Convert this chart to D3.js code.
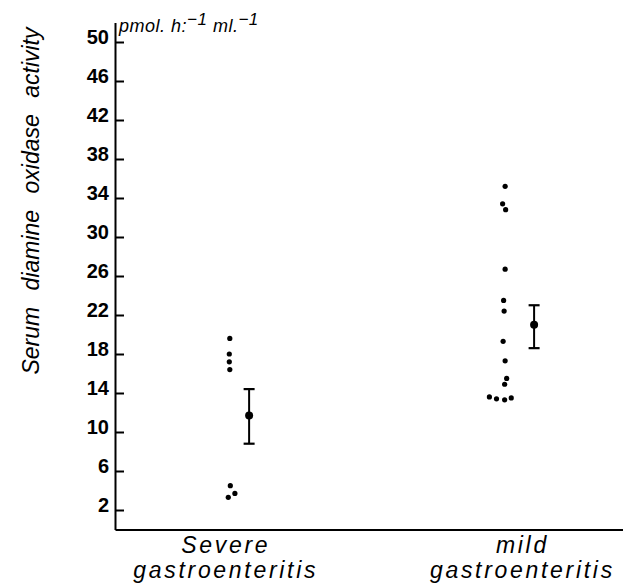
<!doctype html>
<html>
<head>
  <meta charset="utf-8">
  <title>Serum diamine oxidase activity</title>
  <style>
    body { margin: 0; background: #fff; }
    svg { display: block; }
    text { font-family: "Liberation Sans", Arial, sans-serif; fill: #000; }
    .tick text { font-size: 20px; font-weight: bold; }
  </style>
</head>
<body>
  <div id="vis"></div>

  <script src="https://cdn.jsdelivr.net/npm/d3@7"></script>
  <script>

    // data
    var groups = ["Severe", "mild"];
    var groupLabelX = [21.8, 80.2];          // label centre, % of axis width
    var groupDotX = [22.6, 76.8];            // dot column, % of axis width
    var groupMeanX = [26.4, 82.5];           // mean +/- bar, % of axis width

    var severeValues = [19.6, 18.0, 17.2, 16.4, 4.5, 3.7, 3.3];
    var severeJitter = [0, -0.1, -0.1, 0, 0.1, 1.0, -0.3];

    var mildValues = [35.2, 33.4, 32.8, 26.7, 23.5, 22.4, 19.3, 17.3, 15.5, 14.9, 13.6, 13.4, 13.3, 13.5];
    var mildJitter = [0, -0.5, 0.1, 0, -0.3, -0.2, -0.4, 0, 0.3, -0.1, -3.1, -1.7, -0.1, 1.2];

    var means = [11.7, 21.0];
    var errLow = [8.8, 18.6];
    var errHigh = [14.4, 23.0];

    var yTicks = [2, 6, 10, 14, 18, 22, 26, 30, 34, 38, 42, 46, 50];

    var w = 623, h = 588;
    var plotLeft = 115, plotTop = 22.5, plotBottom = 529.5;

    var svg = d3.select("#vis").append("svg")
      .attr("width", w)
      .attr("height", h);

    var x = d3.scaleLinear().domain([0, 100]).range([plotLeft, w]);
    var y = d3.scaleLinear().domain([0, 52]).range([plotBottom, plotTop]);

    // y axis, ticks pointing inward
    var yAxis = d3.axisLeft(y)
      .tickValues(yTicks)
      .tickSize(-9)
      .tickPadding(6)
      .tickSizeOuter(0);

    var ya = svg.append("g")
      .attr("transform", "translate(" + plotLeft + ",0)")
      .call(yAxis);
    ya.select(".domain").attr("stroke-width", 2);
    ya.selectAll(".tick line").attr("stroke-width", 2);
    ya.selectAll(".tick text").attr("dy", "0.05em");
    ya.attr("font-family", null).attr("font-size", null);

    // x axis line only
    var xAxis = d3.axisBottom(x).tickValues([]).tickSizeOuter(0);
    var xa = svg.append("g")
      .attr("transform", "translate(0," + plotBottom + ")")
      .call(xAxis);
    xa.select(".domain").attr("stroke-width", 2);

    // category labels
    var cat = svg.append("g").selectAll("text")
      .data(groups)
      .enter()
      .append("text")
      .attr("text-anchor", "middle")
      .attr("font-style", "italic")
      .attr("font-size", 23)
      .attr("letter-spacing", 2.7)
      .attr("x", function(d, i){ return x(groupLabelX[i]); })
      .attr("y", 553);
    cat.append("tspan").text(function(d){ return d; });
    cat.append("tspan")
      .attr("x", function(d, i){ return x(groupLabelX[i]); })
      .attr("dy", 25)
      .text("gastroenteritis");

    // y axis title
    svg.append("text")
      .attr("transform", "translate(39,201) rotate(-90)")
      .attr("text-anchor", "middle")
      .attr("font-style", "italic")
      .attr("font-size", 23)
      .attr("word-spacing", 10)
      .text("Serum diamine oxidase activity");

    // units
    var units = svg.append("text")
      .attr("x", 119)
      .attr("y", 32)
      .attr("font-style", "italic")
      .attr("font-size", 18)
      .attr("letter-spacing", 0.5);
    units.append("tspan").text("pmol. h:");
    units.append("tspan").attr("dy", -7).attr("font-size", 17).text("\u22121");
    units.append("tspan").attr("dy", 7).text(" ml.");
    units.append("tspan").attr("dy", -7).attr("font-size", 17).text("\u22121");

    // individual points
    var points = [];
    severeValues.forEach(function(v, i){ points.push({x: groupDotX[0] + severeJitter[i], v: v}); });
    mildValues.forEach(function(v, i){ points.push({x: groupDotX[1] + mildJitter[i], v: v}); });

    svg.append("g").selectAll("circle")
      .data(points)
      .enter()
      .append("circle")
      .attr("cx", function(d){ return x(d.x); })
      .attr("cy", function(d){ return y(d.v); })
      .attr("r", 2.6)
      .attr("fill", "#000");

    // mean +/- bars
    var bars = svg.append("g").selectAll("g")
      .data(means)
      .enter()
      .append("g");

    bars.append("line")
      .attr("x1", function(d, i){ return x(groupMeanX[i]); })
      .attr("x2", function(d, i){ return x(groupMeanX[i]); })
      .attr("y1", function(d, i){ return y(errLow[i]); })
      .attr("y2", function(d, i){ return y(errHigh[i]); })
      .attr("stroke", "#000")
      .attr("stroke-width", 2);

    [errLow, errHigh].forEach(function(arr){
      bars.append("line")
        .attr("x1", function(d, i){ return x(groupMeanX[i]) - 5.5; })
        .attr("x2", function(d, i){ return x(groupMeanX[i]) + 5.5; })
        .attr("y1", function(d, i){ return y(arr[i]); })
        .attr("y2", function(d, i){ return y(arr[i]); })
        .attr("stroke", "#000")
        .attr("stroke-width", 2.2);
    });

    bars.append("circle")
      .attr("cx", function(d, i){ return x(groupMeanX[i]); })
      .attr("cy", function(d){ return y(d); })
      .attr("r", 4)
      .attr("fill", "#000");

  </script>
</body>
</html>
